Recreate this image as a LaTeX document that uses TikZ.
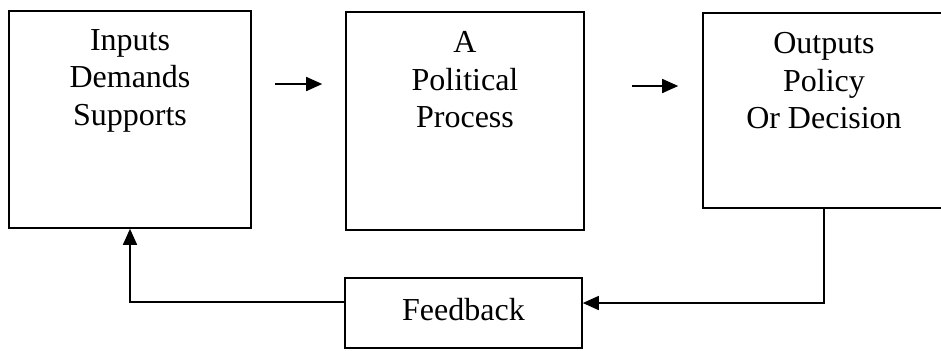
\documentclass[tikz,border=0pt]{standalone}
\usepackage{fontspec}
\setmainfont{Liberation Serif}
\usetikzlibrary{arrows.meta}

\tikzset{
  block/.style={draw, line width=0.8pt, inner sep=0pt},
  txt/.style={align=center, inner sep=0pt, font=\fontsize{16}{18.75}\selectfont},
  arr/.style={-{Triangle[length=8pt,width=7pt]}, line width=0.8pt}
}

\begin{document}
\begin{tikzpicture}[x=0.5pt,y=-0.5pt]
\useasboundingbox (0,0) rectangle (941,350);

% boxes
\node[block, minimum width=121pt, minimum height=108.5pt] (inputs) at (130,119.5) {};
\node[block, minimum width=119pt, minimum height=109pt] (process) at (465,121) {};
\node[block, minimum width=121pt, minimum height=97.5pt] (outputs) at (824,110.5) {};
\node[block, minimum width=118.5pt, minimum height=35pt] (fb) at (463.5,313) {};

% box texts
\node[txt, anchor=north] (inputs-t) at (130,29) {Inputs\\Demands\\Supports};
\node[txt, anchor=north] (process-t) at (465,31) {A\\Political\\Process};
\node[txt, anchor=north] (outputs-t) at (824,32) {Outputs\\Policy\\Or Decision};
\node[txt, anchor=base] (fb-t) at (463.5,320) {Feedback};

% forward arrows
\draw[arr] ([xshift=11.5pt,yshift=17.75pt]inputs.east) -- ([xshift=-11.5pt,yshift=18.5pt]process.west);
\draw[arr] ([xshift=23.5pt,yshift=17.5pt]process.east) -- ([xshift=-12pt,yshift=12.25pt]outputs.west);

% feedback loop
\draw[arr] (outputs.south) |- ([yshift=5pt]fb.east);
\draw[arr] ([yshift=5.5pt]fb.west) -| (inputs.south);

\end{tikzpicture}
\end{document}
